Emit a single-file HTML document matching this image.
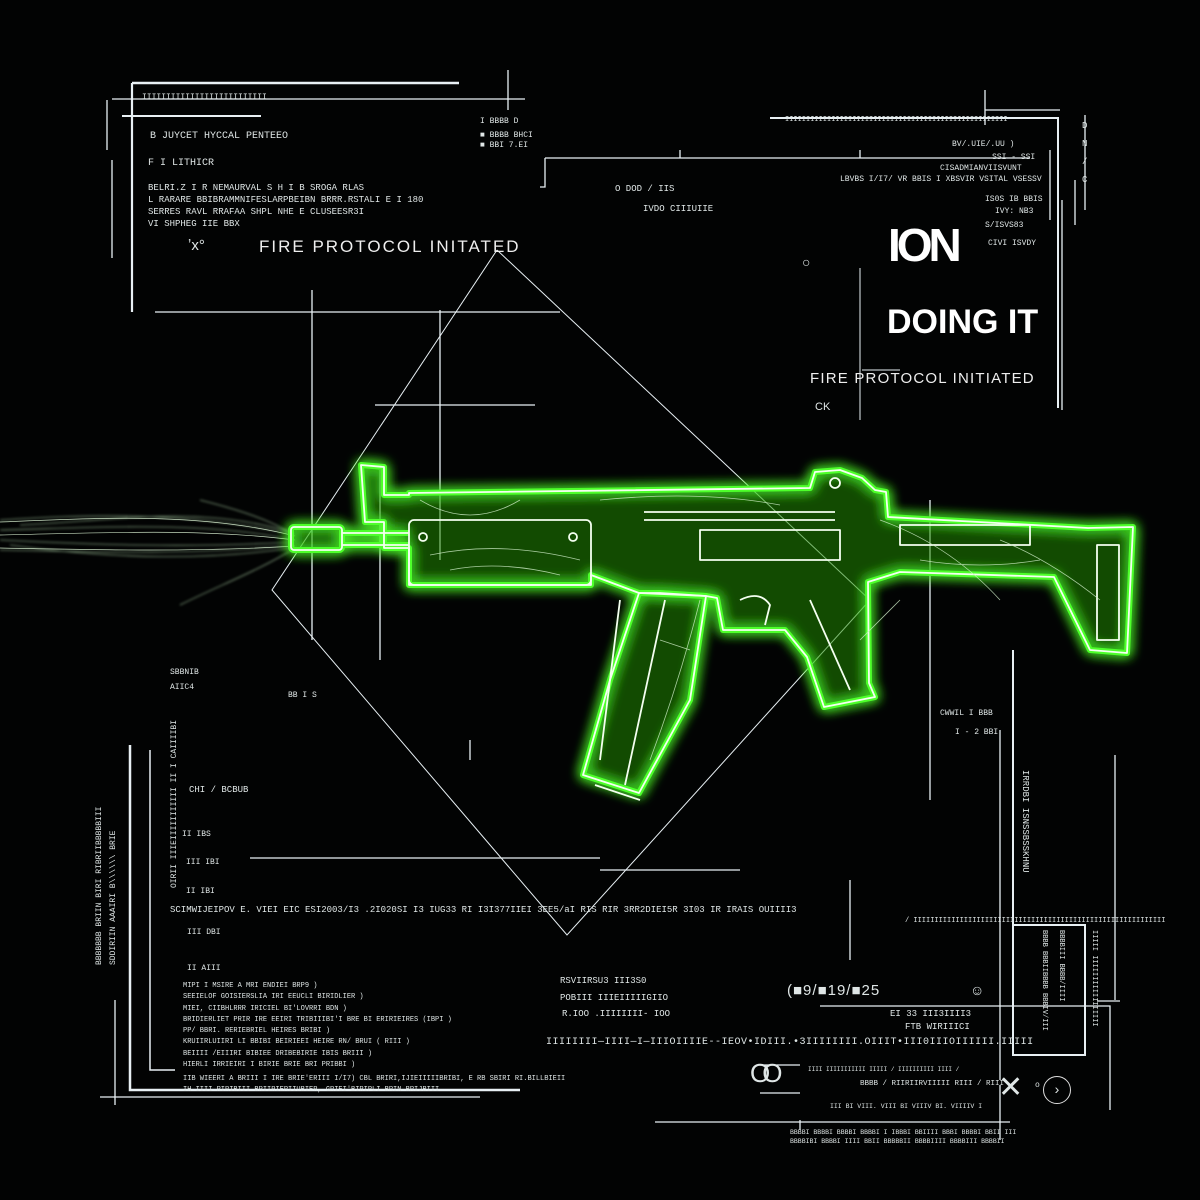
<!DOCTYPE html>
<html><head><meta charset="utf-8"><style>
html,body{margin:0;padding:0;background:#000;}
#c{position:relative;width:1200px;height:1200px;background:#020303;overflow:hidden;font-family:"Liberation Mono",monospace;color:#dfe6e6;}
.t{position:absolute;white-space:nowrap;font-size:9px;letter-spacing:0px;transform-origin:0 0;}
.s{font-family:"Liberation Sans",sans-serif;}
svg{position:absolute;left:0;top:0;}
</style></head><body><div id="c">
<svg width="1200" height="1200" viewBox="0 0 1200 1200">
<defs>
<filter id="g" x="-20%" y="-20%" width="140%" height="140%">
<feGaussianBlur stdDeviation="6" result="b"/>
<feMerge><feMergeNode in="b"/><feMergeNode in="b"/><feMergeNode in="SourceGraphic"/></feMerge>
</filter>
<filter id="g2"><feGaussianBlur stdDeviation="1.2"/></filter>
</defs>
<g stroke="#e8f0f4" fill="none" stroke-width="1.3">
<path d="M132 83H459" stroke-width="2.5"/>
<path d="M132 83V312" stroke-width="2.2"/>
<path d="M122 116H261" stroke-width="2"/>
<path d="M112 99H525M508 70V110"/>
<path d="M107 100V150M112 160V258"/>
<path d="M770 118H1058V408" stroke-width="2"/>
<path d="M545 158V187H540M545 158H1030M680 150V158M860 150V158"/>
<path d="M985 90V125M985 110H1060" />
<path d="M1085 115V210M1050 150V220M1062 200V410M1075 180V225"/>
<path d="M497 250L272 590L567 935L870 600L497 250" stroke-width="1"/>
<path d="M440 310V560M312 290V640M155 312H560M375 405H535M380 470V660M930 500V800M600 870H740M250 858H600M850 880V960M470 740V760"/>
<path d="M860 268V420M862 370H900" stroke-width="1"/>
<path d="M130 745V1090H520" stroke-width="2.5"/>
<path d="M150 750V1070H175" stroke-width="1.5"/>
<path d="M115 1000V1105M100 1097H480"/>
<path d="M1013 650V1055H1085V925H1013" stroke-width="2"/>
<path d="M1000 730V1080M1115 755V1000M1097 1001H1120M820 1006H1110V1110"/>
<path d="M655 1122H1010M800 1120V1130M1000 1085V1140"/>
<path d="M760 1065H800M760 1093H800"/>
</g>
<g stroke="#bfe8b8" stroke-width="0.8" fill="none" opacity="0.75" filter="url(#g2)">
<path d="M0 520C80 515 180 510 295 535"/>
<path d="M0 530C90 528 200 520 295 540"/>
<path d="M0 540C100 545 190 548 295 542"/>
<path d="M0 550C90 552 200 555 295 545"/>
<path d="M20 525C120 520 200 505 290 532"/>
<path d="M10 545C120 560 210 560 292 548"/>
<path d="M180 605C220 585 260 570 295 548"/>
<path d="M200 500C240 510 270 520 295 535"/>
</g>
<g stroke="#d8f0d0" stroke-width="0.7" fill="none" opacity="0.9">
<path d="M0 522C100 518 200 512 295 536M0 535C100 533 200 528 295 540M0 548C100 550 200 552 295 546"/>
</g>
<g filter="url(#g)">
<g stroke="#4dff2a" stroke-width="6" fill="rgba(30,140,20,0.22)" stroke-linejoin="round">
<path d="M409 493L810 488L815 472L840 470L862 478L875 490L886 492L888 517L1088 528L1133 527L1127 653L1090 650L1054 577L900 572L868 582L869 683L875 697L824 707L807 657L785 630L723 630L717 598L706 596L660 593L639 593L591 575L591 585L409 585L409 548L384 548L384 522L365 522L361 465L384 467L384 495L409 495Z"/>
<path d="M639 593L706 596L690 700L639 793L583 775L610 680Z"/>
<rect x="291" y="527" width="51" height="23" rx="3"/>
<path d="M342 533H409M342 545H409"/>
</g>
</g>
<g stroke="#f4fff0" stroke-width="1.8" fill="none" stroke-linejoin="round">
<path d="M409 493L810 488L815 472L840 470L862 478L875 490L886 492L888 517L1088 528L1133 527L1127 653L1090 650L1054 577L900 572L868 582L869 683L875 697L824 707L807 657L785 630L723 630L717 598L706 596L660 593L639 593L591 575L591 585L409 585L409 548L384 548L384 522L365 522L361 465L384 467L384 495L409 495Z"/>
<path d="M639 593L706 596L690 700L639 793L583 775L610 680Z"/>
<path d="M595 785L640 800M620 600L600 760M665 600L625 785"/>
<rect x="409" y="520" width="182" height="65" rx="5"/>
<circle cx="423" cy="537" r="4"/><circle cx="573" cy="537" r="4"/>
<rect x="291" y="527" width="51" height="23" rx="3"/>
<path d="M342 533H409M342 545H409"/>
<path d="M644 512H835M644 520H835"/>
<path d="M700 530H840V560H700Z"/>
<path d="M900 525H1030V545H900Z"/>
<rect x="1097" y="545" width="22" height="95"/>
<circle cx="835" cy="483" r="5"/>
<path d="M740 600Q760 590 770 605L765 625M810 600L850 690"/>
</g>
<g stroke="#cfeec8" stroke-width="0.8" fill="none" opacity="0.8">
<path d="M430 555Q500 540 580 560M600 500Q700 490 780 505M920 560Q980 570 1040 560M660 640L690 650M900 600L860 640M420 500Q470 530 520 500M450 570Q500 560 560 575M700 600Q680 680 650 760M880 520Q950 545 1000 600M1000 540Q1050 560 1100 600"/>
</g>
</svg>

<div class="t" style="left:142px;top:93px;font-size:8px;">IIIIIIIIIIIIIIIIIIIIIIIIII</div>
<div class="t" style="left:150px;top:131px;font-size:10px;">B JUYCET HYCCAL PENTEEO</div>
<div class="t" style="left:148px;top:158px;font-size:10px;">F I LITHICR</div>
<div class="t" style="left:148px;top:183px;font-size:9px;">BELRI.Z I R NEMAURVAL  S H I B  SROGA RLAS</div>
<div class="t" style="left:148px;top:195px;font-size:9px;">L RARARE BBIBRAMMNIFESLARPBEIBN BRRR.RSTALI E  I 180</div>
<div class="t" style="left:148px;top:207px;font-size:9px;">SERRES RAVL RRAFAA SHPL NHE E  CLUSEESR3I</div>
<div class="t" style="left:148px;top:219px;font-size:9px;">VI SHPHEG IIE BBX</div>
<div class="t s" style="left:188px;top:237px;font-size:15px;">ʼx°</div>
<div class="t s" style="left:259px;top:237px;font-size:17px;letter-spacing:2px;color:#eee;">FIRE PROTOCOL INITATED</div>
<div class="t" style="left:480px;top:117px;font-size:8px;">I  BBBB D</div>
<div class="t" style="left:480px;top:131px;font-size:8px;">■ BBBB BHCI</div>
<div class="t" style="left:480px;top:141px;font-size:8px;">■ BBI  7.EI</div>
<div class="t" style="left:615px;top:184px;font-size:9px;">O  DOD  /  IIS</div>
<div class="t" style="left:643px;top:204px;font-size:9px;">IVDO  CIIIUIIE</div>

<div class="t" style="left:785px;top:116px;font-size:7px;">IIIIIIIIIIIIIIIIIIIIIIIIIIIIIIIIIIIIIIIIIIIIIIIIIIIII</div>
<div class="t" style="left:952px;top:140px;font-size:8px;">BV/.UIE/.UU )</div>
<div class="t" style="left:992px;top:153px;font-size:8px;">SSI - SSI</div>
<div class="t" style="left:940px;top:164px;font-size:8px;">CISADMIANVIISVUNT</div>
<div class="t" style="left:840px;top:175px;font-size:8px;">LBVBS I/I7/ VR BBIS I XBSVIR VSITAL VSESSV</div>
<div class="t" style="left:985px;top:195px;font-size:8px;">IS0S IB BBIS</div>
<div class="t" style="left:995px;top:207px;font-size:8px;">IVY: NB3</div>
<div class="t" style="left:985px;top:221px;font-size:8px;">S/ISVS83</div>
<div class="t" style="left:988px;top:239px;font-size:8px;">CIVI ISVDY</div>
<div class="t s" style="left:888px;top:218px;font-size:46px;font-weight:bold;letter-spacing:-4px;color:#fff;">ION</div>
<div class="t s" style="left:887px;top:303px;font-size:34px;font-weight:bold;letter-spacing:0px;color:#fff;">DOING IT</div>
<div class="t s" style="left:810px;top:370px;font-size:15px;letter-spacing:1.2px;color:#eee;">FIRE PROTOCOL INITIATED</div>
<div class="t s" style="left:815px;top:401px;font-size:11px;">CK</div>
<div class="t s" style="left:802px;top:254px;font-size:14px;">○</div>
<div class="t" style="left:1082px;top:117px;font-size:9px;line-height:18px;">D<br>N<br>/<br>C</div>

<div class="t" style="left:170px;top:668px;font-size:8px;">SBBNIB</div>
<div class="t" style="left:170px;top:683px;font-size:8px;">AIIC4</div>
<div class="t" style="left:288px;top:691px;font-size:8px;">BB I S</div>
<div class="t" style="left:189px;top:785px;font-size:9px;">CHI   /  BCBUB</div>
<div class="t" style="left:182px;top:830px;font-size:8px;">II  IBS</div>
<div class="t" style="left:186px;top:858px;font-size:8px;">III  IBI</div>
<div class="t" style="left:186px;top:887px;font-size:8px;">II  IBI</div>
<div class="t" style="left:170px;top:905px;font-size:9px;">SCIMWIJEIPOV  E. VIEI EIC ESI2003/I3  .2I020SI  I3 IUG33 RI I3I377IIEI  3EE5/aI  RIS RIR  3RR2DIEI5R  3I03 IR IRAIS OUIIII3</div>
<div class="t" style="left:187px;top:928px;font-size:8px;">III  DBI</div>
<div class="t" style="left:187px;top:964px;font-size:8px;">II  AIII</div>
<div class="t" style="left:183px;top:981px;font-size:7px;line-height:11.3px;">MIPI I MSIRE  A  MRI ENDIEI BRP9 )<br>SEEIELOF GOISIERSLIA IRI EEUCLI BIRIDLIER )<br>MIEI,  CIIBHLRRR  IRICIEL BI'LOVRRI BDN )<br>BRIDIERLIET PRIR IRE EEIRI TRIBIIIBI'I BRE BI ERIRIEIRES (IBPI )<br>PP/ BBRI. RERIEBRIEL HEIRES BRIBI )<br>KRUIIRLUIIRI  LI  BBIBI BEIRIEEI  HEIRE RN/ BRUI  ( RIII )<br>BEIIII /EIIIRI BIBIEE DRIBEBIRIE IBIS BRIII )<br>HIERLI IRRIEIRI  I BIRIE BRIE BRI PRIBBI )</div>
<div class="t" style="left:183px;top:1074px;font-size:7px;line-height:11px;">IIB WIEERI  A BRIII I IRE BRIE'ERIII I/I7)  CBL  BRIRI,IJIEIIIIIBRIBI,  E RB SBIRI RI.BILLBIEII<br>IH IIII RIRIBIII BRIIRIERIIUBIER, GRIEI'BIRIPLI BRIN BRIJBIII</div>
<div class="t" style="left:170px;top:720px;font-size:8px;line-height:10px;writing-mode:vertical-rl;transform:rotate(180deg);transform-origin:center;">OIRII IIIEIIIIIIIIIII II I CAIIIIBI</div>
<div class="t" style="left:104px;top:965px;font-size:8px;writing-mode:vertical-rl;transform:rotate(180deg);">BBBBBBB BRIIN BIRI RIBRIIBBBBBIII</div>
<div class="t" style="left:118px;top:965px;font-size:8px;writing-mode:vertical-rl;transform:rotate(180deg);">SDDIRIIN AAAIRI B\\\\\\ BRIE</div>

<div class="t" style="left:560px;top:976px;font-size:9px;">RSVIIRSU3  III3S0</div>
<div class="t" style="left:560px;top:993px;font-size:9px;">POBIII IIIEIIIIIGIIO</div>
<div class="t" style="left:562px;top:1009px;font-size:9px;">R.IOO  .IIIIIIII-  IOO</div>
<div class="t" style="left:546px;top:1037px;font-size:10px;letter-spacing:0.5px;">IIIIIIII—IIII—I—IIIOIIIIE--IEOV•IDIII.•3IIIIIIII.OIIIT•III0IIIOIIIIII.IIIII</div>
<div class="t s" style="left:787px;top:982px;font-size:15px;letter-spacing:1px;">(■9/■19/■25</div>
<div class="t s" style="left:970px;top:982px;font-size:14px;">☺</div>
<div class="t" style="left:890px;top:1009px;font-size:9px;">EI  33  III3IIII3</div>
<div class="t" style="left:905px;top:1022px;font-size:9px;">FTB WIRIIICI</div>
<div class="t" style="left:940px;top:709px;font-size:8px;">CWWIL I BBB</div>
<div class="t" style="left:955px;top:728px;font-size:8px;">I - 2 BBI</div>
<div class="t" style="left:905px;top:917px;font-size:7px;">/ IIIIIIIIIIIIIIIIIIIIIIIIIIIIIIIIIIIIIIIIIIIIIIIIIIIIIIIIIIII</div>
<div class="t s" style="left:750px;top:1058px;font-size:26px;letter-spacing:-8px;">OO</div>
<div class="t" style="left:808px;top:1066px;font-size:6px;">IIII IIIIIIIIIII IIIII / IIIIIIIIII IIII /</div>
<div class="t" style="left:860px;top:1080px;font-size:7.5px;">BBBB / RIIRIIRVIIIII RIII / RIII</div>
<div class="t s" style="left:998px;top:1070px;font-size:30px;font-weight:100;">✕</div>
<div style="position:absolute;left:1043px;top:1076px;width:26px;height:26px;border:1.5px solid #ddd;border-radius:50%;font:14px 'Liberation Sans';text-align:center;line-height:25px;">›</div>
<div class="t" style="left:1035px;top:1081px;font-size:8px;">o</div>
<div class="t" style="left:830px;top:1103px;font-size:6.5px;">III BI VIII. VIII BI VIIIV BI. VIIIIV I</div>
<div class="t" style="left:790px;top:1128px;font-size:6.5px;line-height:9px;">BBBBI BBBBI BBBBI BBBBI I IBBBI BBIIII BBBI BBBBI BBII III<br>BBBBIBI BBBBI IIII BBII BBBBBII BBBBIIII BBBBIII BBBBII</div>
<div class="t" style="left:1020px;top:770px;font-size:9px;writing-mode:vertical-rl;">IRRDBI ISNSSBSSKHNU</div>
<div class="t" style="left:1040px;top:930px;font-size:7px;writing-mode:vertical-rl;">BBBB BBBIIBBBB BBBIV/III</div>
<div class="t" style="left:1057px;top:930px;font-size:7px;writing-mode:vertical-rl;">BBBBIII BBBB/IIII</div>
<div class="t" style="left:1090px;top:930px;font-size:7px;writing-mode:vertical-rl;">IIIII IIIIIIIIIIIIIIIII</div>
</div></body></html>
